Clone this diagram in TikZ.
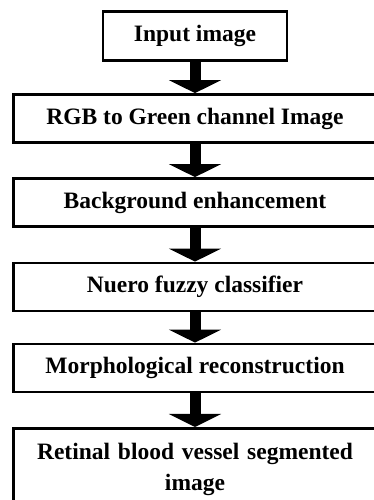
\documentclass[tikz,border=0pt]{standalone}
\usepackage{fontspec}
\setmainfont{Liberation Serif}
\usetikzlibrary{arrows.meta}

\begin{document}
\begin{tikzpicture}[x=1pt, y=1pt,
  box/.style={draw, line width=2.8pt, inner sep=0pt, minimum height=48pt,
    font=\fontsize{23.5}{31}\selectfont\bfseries},
  wide/.style={box, minimum width=363pt},
  flow/.style={line width=11pt, -{Triangle[width=52pt, length=13pt]}}]
\useasboundingbox (0,0) rectangle (373,500);
\fill[white] (0,0) rectangle (373,500);
\node[box, minimum width=184pt, minimum height=49pt] (b1) at (195,464) {Input image};
\node[wide] (b2) at (195,381.5) {RGB to Green channel Image};
\node[wide] (b3) at (195,297.5) {Background enhancement};
\node[wide] (b4) at (195,213) {Nuero fuzzy classifier};
\node[wide] (b5) at (195,132) {Morphological reconstruction};
\node[wide, anchor=north, minimum height=82pt, text width=345pt, align=center] (b6) at (195,73)
  {Retinal blood vessel segmented\\ image};
\foreach \a/\b in {b1/b2, b2/b3, b3/b4, b4/b5, b5/b6}
  \draw[flow] (\a) -- (\b);
\end{tikzpicture}
\end{document}
